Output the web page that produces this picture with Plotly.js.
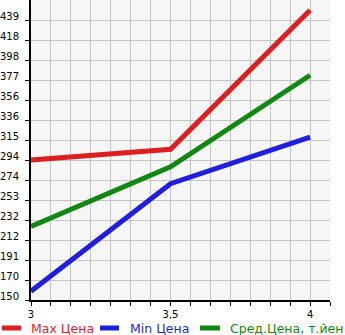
<!DOCTYPE html>
<html><head><meta charset="utf-8">
<script src="https://cdn.plot.ly/plotly-3.0.1.min.js"></script>
<style>body{margin:0;padding:0;background:#fff}#c{width:345px;height:335px}</style>
</head><body><div id="c"></div>
<script>
const xVals = [3, 3.5, 4];
const maxPrice = [294.5, 305.5, 449];
const minPrice = [159, 270, 318];
const avgPrice = [226, 287.5, 382];
const yTickLabels = ['150','170','191','212','232','253','274','294','315','336','356','377','398','418','439'];
const xTickLabels = {'3':'3', '3.5':'3,5', '4':'4'};
const names = ['Max Цена', 'Min Цена', 'Сред.Цена, т.йен'];
const colors = ['#dd1f1f', '#1f1fdd', '#118811'];

const W = 345, H = 335, ML = 31, MR = 15, MT = 0, MB = 35;
const PW = W - ML - MR, PH = H - MT - MB;

const yStep = (439 - 150) / 14;
const yTickVals = yTickLabels.map((_, i) => 150 + i * yStep);
const xTickVals = [], xTickText = [];
for (let k = 0; k <= 15; k++) {
  const v = 3 + k / 14;
  xTickVals.push(v);
  const key = k === 0 ? '3' : (k === 7 ? '3.5' : (k === 14 ? '4' : null));
  xTickText.push(key ? xTickLabels[key] : '');
}

const series = [maxPrice, minPrice, avgPrice];
const traces = series.map((ys, i) => ({
  x: xVals, y: ys, name: names[i], type: 'scatter', mode: 'lines',
  line: {color: colors[i], width: 5}, showlegend: false
}));

// manual legend (pixel positions converted to paper coords)
const legendY = 328;
const legendItems = [
  {lx0: 2, lx1: 21, tx: 29},
  {lx0: 100, lx1: 119, tx: 128},
  {lx0: 200, lx1: 220, tx: 228}
];
const px = p => (p - ML) / PW;
const py = p => (H - MB - p) / PH;
const shapes = legendItems.map((it, i) => ({
  type: 'line', xref: 'paper', yref: 'paper',
  x0: px(it.lx0), x1: px(it.lx1), y0: py(legendY), y1: py(legendY),
  line: {color: colors[i], width: 5}
}));
const annotations = legendItems.map((it, i) => ({
  xref: 'paper', yref: 'paper', x: px(it.tx), y: py(legendY),
  xanchor: 'left', yanchor: 'middle', showarrow: false, text: names[i],
  font: {family: 'DejaVu Sans', size: 12.5, color: colors[i]}
}));

const layout = {
  width: W, height: H,
  margin: {l: ML, r: MR, t: MT, b: MB},
  paper_bgcolor: '#ffffff', plot_bgcolor: '#f6f6f6',
  font: {family: 'DejaVu Sans', size: 10, color: '#000'},
  xaxis: {
    range: [3, 3 + 15 / 14], tickmode: 'array', tickvals: xTickVals, ticktext: xTickText,
    showgrid: true, gridcolor: '#c4c4c4', gridwidth: 1,
    showline: true, linecolor: '#000', linewidth: 2,
    ticks: 'outside', ticklen: 4, tickcolor: '#000', tickwidth: 1,
    zeroline: false, fixedrange: true, tickfont: {size: 10}, automargin: false
  },
  yaxis: {
    range: [150, 150 + 15 * yStep], tickmode: 'array', tickvals: yTickVals, ticktext: yTickLabels,
    showgrid: true, gridcolor: '#c4c4c4', gridwidth: 1,
    showline: true, linecolor: '#000', linewidth: 2,
    ticks: 'outside', ticklen: 4, tickcolor: '#000', tickwidth: 1,
    zeroline: false, fixedrange: true, tickfont: {size: 10}, automargin: false,
    ticklabelshift: -4, ticklabelstandoff: 4
  },
  showlegend: false,
  shapes: shapes,
  annotations: annotations
};
Plotly.newPlot('c', traces, layout, {staticPlot: true});
</script></body></html>
